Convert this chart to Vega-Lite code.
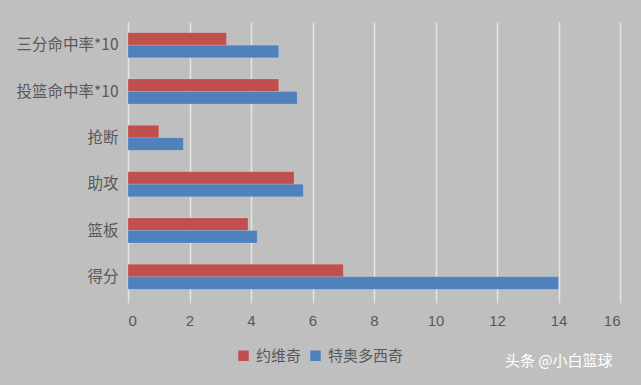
{
  "$schema": "https://vega.github.io/schema/vega-lite/v6.json",
  "width": 492,
  "height": 278,
  "autosize": "none",
  "padding": {"left": 128, "top": 22, "right": 21, "bottom": 85},
  "background": "#BFBFBF",
  "config": {
    "view": {"stroke": null},
    "font": "Noto Sans CJK SC"
  },
  "title": {
    "text": "头条 @小白篮球",
    "orient": "bottom",
    "anchor": "end",
    "color": "#FFFFFF",
    "fontSize": 15,
    "fontWeight": "normal",
    "offset": 12,
    "dy": -22,
    "dx": -8
  },
  "data": {
    "values": [
      {"cat": "三分命中率*10", "player": "约维奇", "v": 3.2},
      {"cat": "三分命中率*10", "player": "特奥多西奇", "v": 4.9},
      {"cat": "投篮命中率*10", "player": "约维奇", "v": 4.9},
      {"cat": "投篮命中率*10", "player": "特奥多西奇", "v": 5.5},
      {"cat": "抢断", "player": "约维奇", "v": 1.0},
      {"cat": "抢断", "player": "特奥多西奇", "v": 1.8},
      {"cat": "助攻", "player": "约维奇", "v": 5.4},
      {"cat": "助攻", "player": "特奥多西奇", "v": 5.7},
      {"cat": "篮板", "player": "约维奇", "v": 3.9},
      {"cat": "篮板", "player": "特奥多西奇", "v": 4.2},
      {"cat": "得分", "player": "约维奇", "v": 7.0},
      {"cat": "得分", "player": "特奥多西奇", "v": 14.0}
    ]
  },
  "mark": {"type": "bar", "stroke": "#FFFFFF", "strokeOpacity": 0.25, "strokeWidth": 0.5},
  "encoding": {
    "y": {
      "field": "cat",
      "type": "nominal",
      "sort": ["三分命中率*10", "投篮命中率*10", "抢断", "助攻", "篮板", "得分"],
      "scale": {"paddingInner": 0.46, "paddingOuter": 0.23},
      "axis": {
        "title": null,
        "domain": false,
        "ticks": false,
        "labelPadding": 10,
        "labelFontSize": 15.5,
        "labelColor": "#595959",
        "labelFont": "Noto Sans CJK SC"
      }
    },
    "yOffset": {
      "field": "player",
      "type": "nominal",
      "sort": ["约维奇", "特奥多西奇"],
      "scale": {"paddingInner": 0}
    },
    "x": {
      "field": "v",
      "type": "quantitative",
      "scale": {"domain": [0, 16], "nice": false},
      "axis": {
        "title": null,
        "values": [0, 2, 4, 6, 8, 10, 12, 14, 16],
        "domain": false,
        "grid": true,
        "gridColor": "#E6E6E6",
        "gridWidth": 1.5,
        "tickColor": "#E6E6E6",
        "tickSize": 3,
        "labelPadding": 10,
        "labelFontSize": 15,
        "labelColor": "#595959",
        "labelFont": "Liberation Sans"
      }
    },
    "color": {
      "field": "player",
      "type": "nominal",
      "sort": ["约维奇", "特奥多西奇"],
      "scale": {"range": ["#C0504D", "#4F81BD"]},
      "legend": {
        "title": null,
        "orient": "none",
        "direction": "horizontal",
        "legendX": 108,
        "legendY": 326,
        "symbolType": "square",
        "symbolSize": 110,
        "symbolStrokeWidth": 0,
        "labelFontSize": 15,
        "labelColor": "#595959",
        "labelFont": "Noto Sans CJK SC",
        "columnPadding": 6,
        "labelOffset": 5
      }
    }
  }
}
